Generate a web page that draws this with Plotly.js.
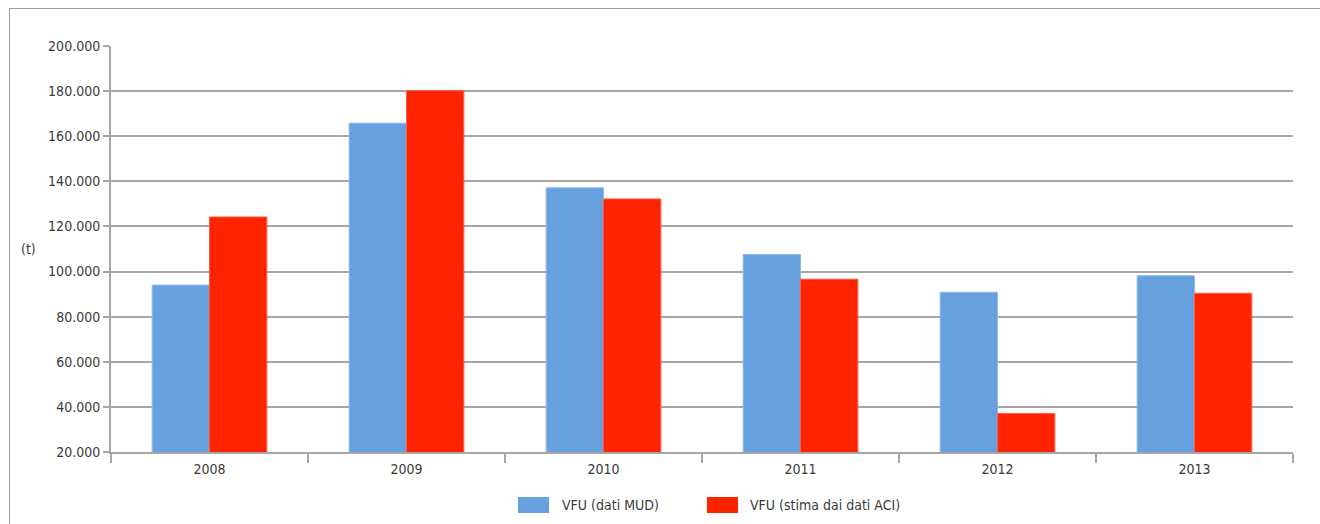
<!DOCTYPE html>
<html>
<head>
<meta charset="utf-8">
<script src="https://cdn.plot.ly/plotly-3.0.1.min.js"></script>
<style>
  html, body { margin: 0; padding: 0; background: #fff; width: 1320px; height: 524px; overflow: hidden; }
  #chart { position: absolute; left: 0; top: 0; width: 1320px; height: 524px; }
  #frame { position: absolute; left: 9px; top: 8px; width: 1400px; height: 600px;
           border-left: 1.5px solid #b39499; border-top: 1.5px solid #b39499; pointer-events: none; }
</style>
</head>
<body>
<div id="chart"></div>
<div id="frame"></div>
<script>
const years = ["2008", "2009", "2010", "2011", "2012", "2013"];
const vfuMud = [94000, 165800, 137100, 107600, 90800, 98100];
const vfuAci = [124200, 180200, 132200, 96600, 37100, 90400];
const seriesNames = ["VFU (dati MUD)", "VFU (stima dai dati ACI)"];
const yTickVals = [20000, 40000, 60000, 80000, 100000, 120000, 140000, 160000, 180000, 200000];
const yTickText = ["20.000", "40.000", "60.000", "80.000", "100.000", "120.000", "140.000", "160.000", "180.000", "200.000"];

const FONT = "'DejaVu Sans Condensed', 'Liberation Sans Narrow', Arial, sans-serif";
const FSIZE = 14;
const TXT = "#3a3a3a";
const BLUE = "#67a0de";
const RED = "#ff2400";

const traces = [
  { type: "bar", x: years, y: vfuMud, name: seriesNames[0],
    marker: { color: BLUE, line: { color: "#8dbaea", width: 1 } }, hoverinfo: "x+y" },
  { type: "bar", x: years, y: vfuAci, name: seriesNames[1],
    marker: { color: RED, line: { color: "#ff5c45", width: 1 } }, hoverinfo: "x+y" }
];

const layout = {
  width: 1320, height: 524,
  margin: { l: 111, r: 27, t: 46, b: 72, pad: 0 },
  paper_bgcolor: "rgba(0,0,0,0)",
  plot_bgcolor: "#ffffff",
  barmode: "group",
  bargap: 0.418,
  bargroupgap: 0,
  showlegend: false,
  font: { family: FONT, size: FSIZE, color: TXT },
  xaxis: {
    type: "category",
    showgrid: false,
    showline: true, linecolor: "#a6a6a6", linewidth: 2,
    ticks: "outside", tickson: "boundaries", ticklen: 9, tickwidth: 2, tickcolor: "#a6a6a6",
    ticklabelstandoff: 3,
    tickfont: { family: FONT, size: FSIZE, color: TXT },
    fixedrange: true
  },
  yaxis: {
    range: [20000, 200000],
    tickvals: yTickVals, ticktext: yTickText,
    showgrid: true, gridcolor: "#a6a6a6", gridwidth: 2,
    zeroline: false,
    showline: true, linecolor: "#a6a6a6", linewidth: 2,
    ticks: "outside", ticklen: 6, tickwidth: 2, tickcolor: "#a6a6a6",
    tickfont: { family: FONT, size: FSIZE, color: TXT },
    fixedrange: true
  },
  shapes: [
    { type: "rect", xref: "paper", yref: "paper", x0: 0.3443, x1: 0.3706, y0: -0.1502, y1: -0.1108,
      fillcolor: BLUE, line: { width: 0 } },
    { type: "rect", xref: "paper", yref: "paper", x0: 0.5042, x1: 0.5305, y0: -0.1502, y1: -0.1108,
      fillcolor: RED, line: { width: 0 } }
  ],
  annotations: [
    { text: "(t)", xref: "paper", yref: "paper", x: -0.0702, y: 0.5, xanchor: "center", yanchor: "middle",
      showarrow: false, font: { family: FONT, size: FSIZE, color: TXT } },
    { text: seriesNames[0], xref: "paper", yref: "paper", x: 0.3799, y: -0.1305, xanchor: "left", yanchor: "middle",
      showarrow: false, font: { family: FONT, size: FSIZE, color: TXT } },
    { text: seriesNames[1], xref: "paper", yref: "paper", x: 0.5389, y: -0.1305, xanchor: "left", yanchor: "middle",
      showarrow: false, font: { family: FONT, size: FSIZE, color: TXT } }
  ]
};

Plotly.newPlot("chart", traces, layout, { displayModeBar: false, staticPlot: true });
</script>
</body>
</html>
